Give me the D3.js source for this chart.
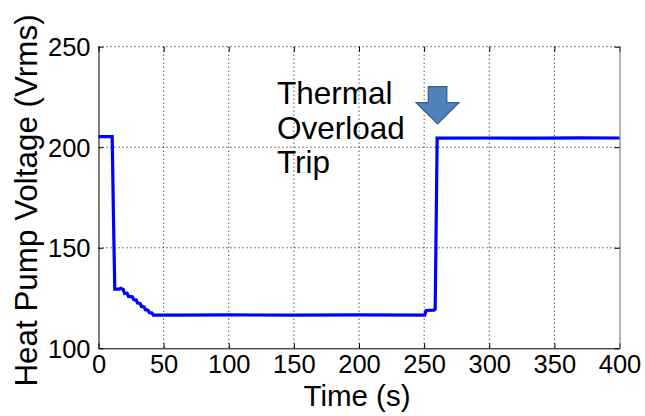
<!DOCTYPE html>
<html lang="en">
<head>
    <meta charset="UTF-8">
    <title>Heat Pump Voltage</title>
    <script src="https://cdn.jsdelivr.net/npm/d3@7/dist/d3.min.js"></script>
    <style>
        body { margin: 0; background: #fff; }
        text { font-family: Arial, "Liberation Sans", sans-serif; fill: #000; }
    </style>
</head>
<body>
    <svg id="svg" width="645" height="416"></svg>
    <script>
        const time = [0, 10.5, 11.5, 12.5, 16, 17, 19, 20, 22, 23, 26, 27, 29, 30, 32, 33, 35, 36, 38, 39, 41, 42, 60, 100, 150, 200, 250.5, 251.5, 257.5, 258.5, 260, 300, 340, 370, 400];
        const voltage = [205.3, 205.3, 165, 129.4, 129.4, 129.8, 129.3, 127.3, 127.3, 125.8, 125.6, 124.2, 124, 122.5, 122.3, 120.8, 120.6, 119.2, 119, 117.7, 117.6, 116.5, 116.5, 116.6, 116.5, 116.6, 116.5, 118.8, 119, 119.5, 204.5, 204.6, 204.5, 204.7, 204.6];
        const xTicks = [0, 50, 100, 150, 200, 250, 300, 350, 400];
        const yTicks = [100, 150, 200, 250];
        const noteLines = ["Thermal", "Overload", "Trip"];

        const svg = d3.select("#svg");
        const mLeft = 98.5, mRight = 619.5, mTop = 46.7, mBottom = 348.3;

        const x = d3.scaleLinear().domain([0, 400]).range([mLeft, mRight]);
        const y = d3.scaleLinear().domain([100, 250]).range([mBottom, mTop]);

        // grid
        const grid = svg.append("g")
            .attr("stroke", "#000")
            .attr("stroke-width", 1)
            .attr("stroke-dasharray", "1,3");
        grid.selectAll(".gx").data(xTicks.slice(1, -1)).join("line")
            .attr("x1", d => x(d)).attr("x2", d => x(d))
            .attr("y1", mTop).attr("y2", mBottom);
        grid.selectAll(".gy").data(yTicks.slice(1)).join("line")
            .attr("x1", mLeft).attr("x2", mRight)
            .attr("y1", d => y(d)).attr("y2", d => y(d));

        // axes
        const xAxis = svg.append("g")
            .attr("transform", `translate(0,${mBottom})`)
            .call(d3.axisBottom(x).tickValues(xTicks).tickSizeInner(-5).tickSizeOuter(0).tickPadding(10));
        const yAxis = svg.append("g")
            .attr("transform", `translate(${mLeft},0)`)
            .call(d3.axisLeft(y).tickValues(yTicks).tickSizeInner(-5).tickSizeOuter(0).tickPadding(8));
        svg.append("g")
            .attr("transform", `translate(0,${mTop})`)
            .call(d3.axisTop(x).tickValues(xTicks).tickSizeInner(-5).tickSizeOuter(0).tickFormat(""))
            .select(".domain").remove();
        svg.append("g")
            .attr("transform", `translate(${mRight},0)`)
            .call(d3.axisRight(y).tickValues(yTicks).tickSizeInner(-5).tickSizeOuter(0).tickFormat(""))
            .select(".domain").attr("stroke", "#666");

        [xAxis, yAxis].forEach(a => {
            a.selectAll("text")
                .style("font-family", 'Arial, "Liberation Sans", sans-serif')
                .style("font-size", "25.5px")
                .attr("fill", "#000");
        });
        xAxis.selectAll(".tick text").attr("dy", "0.71em").attr("y", 6.5);
        yAxis.selectAll(".tick text").attr("dy", "0.36em");

        // series
        const line = d3.line().x((d, i) => x(time[i])).y(d => y(d));
        svg.append("path")
            .attr("d", line(voltage))
            .attr("fill", "none")
            .attr("stroke", "#0000ff")
            .attr("stroke-width", 3.2)
            .attr("stroke-linejoin", "miter");

        // labels
        svg.append("text")
            .attr("x", 357)
            .attr("y", 406)
            .attr("text-anchor", "middle")
            .style("font-size", "29.5px")
            .text("Time (s)");
        svg.append("text")
            .attr("transform", "translate(37,200.5) rotate(-90)")
            .attr("text-anchor", "middle")
            .style("font-size", "31.4px")
            .text("Heat Pump Voltage (Vrms)");

        // annotation
        const note = svg.append("text")
            .attr("x", x(137))
            .attr("y", y(221.3))
            .style("font-size", "31.5px");
        note.selectAll("tspan").data(noteLines).join("tspan")
            .attr("x", x(137))
            .attr("dy", (d, i) => i === 0 ? 0 : 34.3)
            .text(d => d);

        // trip arrow pointing at the rise
        const ax = x(260.3), ay = 124;
        const arrow = [
            [-9.3, -37.3], [9.3, -37.3], [9.3, -21.3], [21.5, -21.3],
            [0, 0], [-21.5, -21.3], [-9.3, -21.3]
        ].map(p => [ax + p[0], ay + p[1]]);
        svg.append("path")
            .attr("d", d3.line()(arrow) + "Z")
            .attr("fill", "#4f81bd")
            .attr("stroke", "#385d8a")
            .attr("stroke-width", 1.2);
    </script>
</body>
</html>
